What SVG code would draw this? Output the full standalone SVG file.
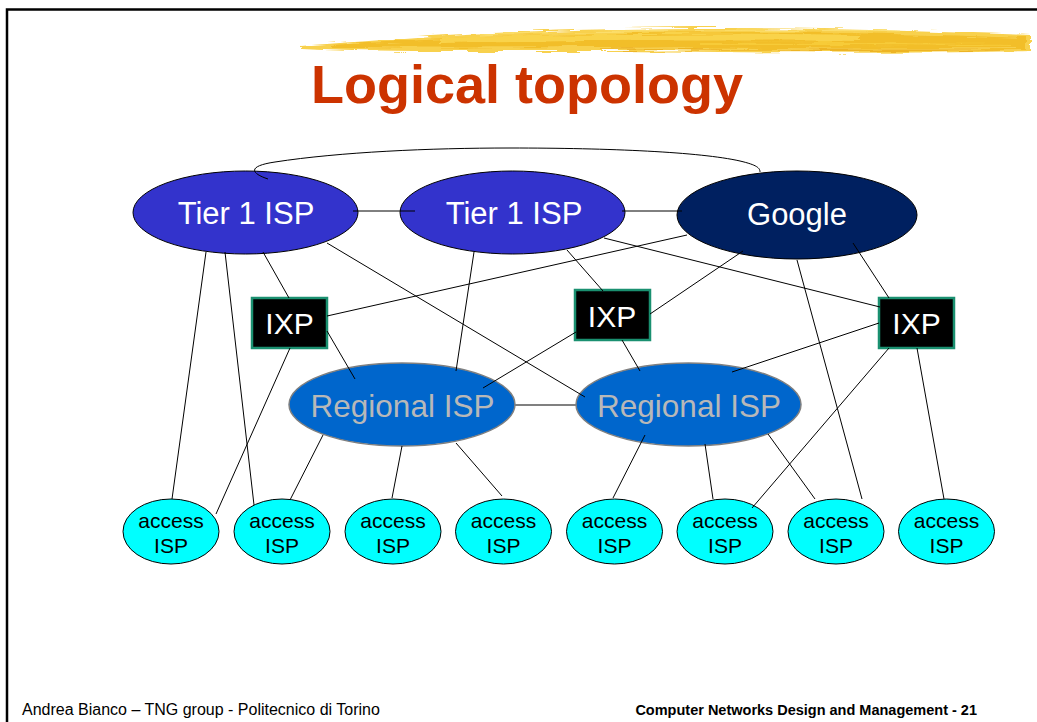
<svg xmlns="http://www.w3.org/2000/svg" width="1037" height="722" viewBox="0 0 1037 722">
<style>
.t1{fill:#3333cc;stroke:#000;stroke-width:1}
.goo{fill:#002060;stroke:#000;stroke-width:1}
.reg{fill:#0066cc;stroke:#808080;stroke-width:1.5}
.acc{fill:#00ffff;stroke:#000;stroke-width:1}
.ixp{fill:#000;stroke:#1a9070;stroke-width:2.5}
.wt{font-family:"Liberation Sans",Arial,sans-serif;fill:#fff;text-anchor:middle}
.rt{font-family:"Liberation Sans",Arial,sans-serif;fill:#b8b8b8;text-anchor:middle;font-size:31.5px}
.at{font-family:"Liberation Sans",Arial,sans-serif;fill:#000;text-anchor:middle;font-size:21px}
.ln line,.ln path{stroke:#000;stroke-width:1;fill:none}
.foot{font-family:"Liberation Sans",Arial,sans-serif;fill:#000}
</style>
<defs>
<filter id="rough" x="-5%" y="-80%" width="110%" height="260%">
<feTurbulence type="fractalNoise" baseFrequency="0.02 0.35" numOctaves="2" seed="4" result="n"/>
<feDisplacementMap in="SourceGraphic" in2="n" scale="7" xChannelSelector="R" yChannelSelector="G"/>
</filter>
</defs>
<rect x="0" y="0" width="1037" height="722" fill="#fff"/>
<!-- frame -->
<path d="M7,722 V9.5 H1037" fill="none" stroke="#000" stroke-width="2.5"/>
<!-- brush stroke -->
<g id="brush" filter="url(#rough)">
<path d="M300,46 C340,43 380,40 430,36 C520,31 620,28 720,28 C820,28 930,31 1030,35 L1030,51 C930,53 820,53 720,52 C620,51 520,51 430,51 C380,51 340,50 300,48 Z" fill="#f7c930" opacity="0.85"/>
<path d="M330,45 C420,40 520,35 640,33 C760,31 900,33 1025,38 L1025,48 C900,49 760,48 640,47 C520,47 420,48 330,47 Z" fill="#f0b416" opacity="0.65"/>
<path d="M440,39 C560,34 700,32 860,35 L860,41 C700,40 560,41 440,43 Z" fill="#fcdc58" opacity="0.7"/>
<path d="M600,49 C720,50 860,51 1000,50" stroke="#e6a20e" stroke-width="1.5" fill="none" opacity="0.6"/>
<path d="M480,35 C600,30 740,29 900,31" stroke="#fde274" stroke-width="1.2" fill="none" opacity="0.8"/>
<path d="M700,44 C800,43 900,44 1010,45" stroke="#f9d040" stroke-width="2" fill="none" opacity="0.7"/>
</g>
<text x="527" y="103" font-family="Liberation Sans,Arial,sans-serif" font-weight="bold" font-size="54" fill="#cc3300" text-anchor="middle">Logical topology</text>

<g id="tier1-left"><ellipse class="t1" cx="245.5" cy="212.5" rx="112.5" ry="41.5"/><text class="wt" x="246" y="224" font-size="31">Tier 1 ISP</text></g>
<g id="tier1-mid"><ellipse class="t1" cx="512.5" cy="212.5" rx="112.5" ry="41.5"/><text class="wt" x="514" y="224" font-size="31">Tier 1 ISP</text></g>
<g id="google"><ellipse class="goo" cx="797" cy="215" rx="120" ry="44"/><text class="wt" x="797" y="225" font-size="31">Google</text></g>

<g id="ixp-left"><rect class="ixp" x="252" y="298" width="75" height="50"/><text class="wt" x="289.5" y="334" font-size="30">IXP</text></g>
<g id="ixp-mid"><rect class="ixp" x="575" y="290" width="75" height="50"/><text class="wt" x="612" y="327" font-size="30">IXP</text></g>
<g id="ixp-right"><rect class="ixp" x="879" y="298" width="75" height="50"/><text class="wt" x="916.5" y="334" font-size="30">IXP</text></g>

<g id="regional-left"><ellipse class="reg" cx="402" cy="404.5" rx="113" ry="41.5"/><text class="rt" x="402.5" y="416.5">Regional ISP</text></g>
<g id="regional-right"><ellipse class="reg" cx="688.5" cy="404.5" rx="112.5" ry="41.5"/><text class="rt" x="689" y="416.5">Regional ISP</text></g>

<g id="access-1"><ellipse class="acc" cx="171" cy="531.5" rx="48" ry="32.5"/><text class="at" x="171" y="528">access</text><text class="at" x="171" y="553">ISP</text></g>
<g id="access-2"><ellipse class="acc" cx="282" cy="531.5" rx="48" ry="32.5"/><text class="at" x="282" y="528">access</text><text class="at" x="282" y="553">ISP</text></g>
<g id="access-3"><ellipse class="acc" cx="393" cy="531.5" rx="48" ry="32.5"/><text class="at" x="393" y="528">access</text><text class="at" x="393" y="553">ISP</text></g>
<g id="access-4"><ellipse class="acc" cx="503.5" cy="531.5" rx="48" ry="32.5"/><text class="at" x="503.5" y="528">access</text><text class="at" x="503.5" y="553">ISP</text></g>
<g id="access-5"><ellipse class="acc" cx="614.5" cy="531.5" rx="48" ry="32.5"/><text class="at" x="614.5" y="528">access</text><text class="at" x="614.5" y="553">ISP</text></g>
<g id="access-6"><ellipse class="acc" cx="725" cy="531.5" rx="48" ry="32.5"/><text class="at" x="725" y="528">access</text><text class="at" x="725" y="553">ISP</text></g>
<g id="access-7"><ellipse class="acc" cx="836" cy="531.5" rx="48" ry="32.5"/><text class="at" x="836" y="528">access</text><text class="at" x="836" y="553">ISP</text></g>
<g id="access-8"><ellipse class="acc" cx="946.5" cy="531.5" rx="48" ry="32.5"/><text class="at" x="946.5" y="528">access</text><text class="at" x="946.5" y="553">ISP</text></g>

<g id="connectors" class="ln">
<path d="M268,179 C250,173 248,166 275,162 C340,152 430,148 510,148 C610,148 700,152 740,161 C757,165 760,168 760,172"/>
<line x1="353" y1="211" x2="415" y2="211"/>
<line x1="622" y1="211" x2="682" y2="211"/>
<line x1="515" y1="405" x2="576" y2="405" style="stroke:#808080;stroke-width:2"/>
<line x1="206" y1="252" x2="172" y2="499"/>
<line x1="225" y1="252" x2="254" y2="505"/>
<line x1="263" y1="252" x2="289" y2="298"/>
<line x1="327" y1="243" x2="585" y2="397"/>
<line x1="474" y1="252" x2="456" y2="371"/>
<line x1="567" y1="250" x2="603" y2="291"/>
<line x1="604" y1="238" x2="880" y2="307"/>
<line x1="687" y1="235" x2="327" y2="316"/>
<line x1="743" y1="251" x2="650" y2="314"/>
<line x1="797" y1="260" x2="862" y2="499"/>
<line x1="853" y1="243" x2="889" y2="298"/>
<line x1="290" y1="348" x2="216" y2="514"/>
<line x1="327" y1="331" x2="355" y2="379"/>
<line x1="576" y1="332" x2="483" y2="388"/>
<line x1="622" y1="340" x2="640" y2="371"/>
<line x1="879" y1="323" x2="732" y2="372"/>
<line x1="889" y1="348" x2="752" y2="508"/>
<line x1="917" y1="348" x2="944" y2="499"/>
<line x1="323" y1="435" x2="290" y2="500"/>
<line x1="402" y1="446" x2="392" y2="498"/>
<line x1="456" y1="443" x2="502" y2="496"/>
<line x1="645" y1="435" x2="613" y2="498"/>
<line x1="705" y1="444" x2="713" y2="499"/>
<line x1="768" y1="434" x2="815" y2="499"/>
</g>

<text class="foot" x="22" y="715" font-size="16">Andrea Bianco – TNG group - Politecnico di Torino</text>
<text class="foot" x="977" y="715" font-size="14.5" font-weight="bold" text-anchor="end">Computer Networks Design and Management - 21</text>
</svg>
